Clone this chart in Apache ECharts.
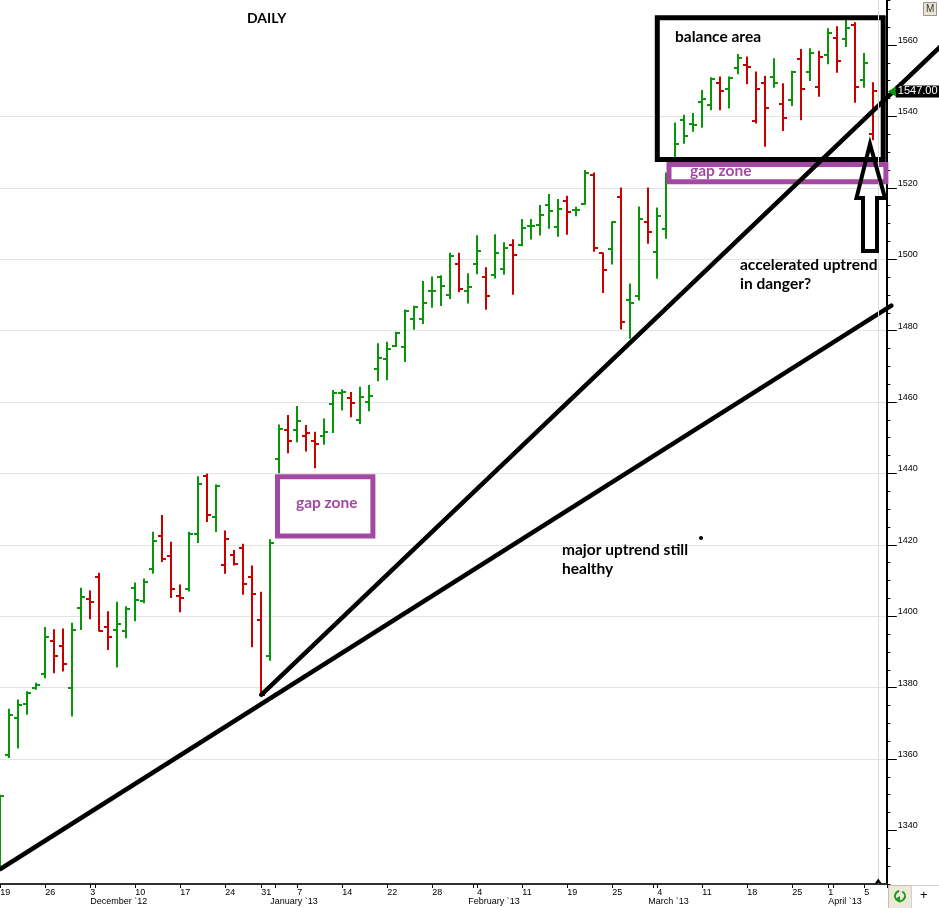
<!DOCTYPE html>
<html>
<head>
<meta charset="utf-8">
<title>DAILY</title>
<script src="https://cdn.jsdelivr.net/npm/echarts@6/dist/echarts.min.js"></script>
<style>
    html, body {margin: 0; padding: 0; background: #fff;}
    #chart {width: 939px; height: 908px;}
</style>
</head>
<body>
<div id="chart"></div>
<script>
// daily OHLC bars (one value per trading day)
var opens = [1331.0, 1361.1, 1371.6, 1375.5, 1379.9, 1383.9, 1393.0, 1391.6, 1379.9, 1402.2,
    1404.7, 1411.0, 1396.9, 1396.1, 1395.8, 1407.8, 1404.2, 1413.3, 1422.5, 1416.9,
    1405.8, 1407.5, 1423.0, 1439.4, 1427.9, 1414.4, 1417.2, 1419.2, 1411.0, 1398.9,
    1388.8, 1443.9, 1452.3, 1452.2, 1450.6, 1449.2, 1450.6, 1459.4, 1462.5, 1461.0,
    1455.1, 1460.0, 1469.2, 1472.0, 1475.7, 1475.5, 1483.3, 1483.3, 1491.2, 1494.9,
    1490.0, 1498.7, 1491.0, 1498.7, 1494.9, 1495.7, 1497.3, 1504.1, 1504.1, 1509.3,
    1509.7, 1515.3, 1509.0, 1516.2, 1513.7, 1515.6, 1523.6, 1501.6, 1502.8, 1517.5,
    1488.5, 1489.7, 1510.5, 1502.1, 1508.4, 1528.2, 1539.0, 1537.8, 1544.0, 1543.2,
    1549.3, 1547.7, 1553.5, 1554.4, 1538.7, 1549.4, 1550.9, 1543.4, 1544.6, 1556.0,
    1552.5, 1548.3, 1557.2, 1561.9, 1561.7, 1565.6, 1550.2, 1535.2];
var highs = [1349.7, 1373.8, 1376.4, 1378.7, 1381.1, 1396.7, 1396.1, 1396.3, 1397.9, 1407.7,
    1406.9, 1411.9, 1401.1, 1403.8, 1402.5, 1409.2, 1410.3, 1423.4, 1428.1, 1420.6,
    1408.6, 1423.4, 1438.9, 1439.7, 1436.6, 1423.7, 1418.3, 1420.0, 1413.9, 1406.6,
    1421.3, 1453.4, 1456.1, 1458.6, 1453.3, 1451.4, 1455.1, 1463.1, 1463.3, 1462.5,
    1464.0, 1464.5, 1476.2, 1476.6, 1479.4, 1485.6, 1486.7, 1493.6, 1494.9, 1495.2,
    1501.5, 1501.5, 1495.8, 1506.4, 1497.5, 1506.7, 1504.5, 1505.3, 1511.0, 1511.0,
    1514.9, 1518.0, 1516.6, 1517.5, 1514.4, 1524.7, 1524.0, 1501.6, 1510.3, 1519.8,
    1492.9, 1514.5, 1519.8, 1514.2, 1524.0, 1538.0, 1540.2, 1540.7, 1547.1, 1550.7,
    1550.9, 1550.9, 1557.2, 1556.5, 1552.3, 1551.1, 1556.0, 1549.0, 1552.5, 1558.6,
    1558.8, 1558.1, 1564.4, 1565.0, 1566.8, 1566.1, 1557.5, 1549.3];
var lows = [1329.2, 1360.6, 1363.2, 1372.7, 1379.7, 1382.9, 1384.3, 1384.8, 1372.2, 1396.4,
    1399.4, 1396.0, 1390.8, 1385.9, 1394.1, 1398.9, 1403.9, 1412.2, 1415.5, 1405.4,
    1401.4, 1407.2, 1420.8, 1426.7, 1423.9, 1412.2, 1414.5, 1406.3, 1391.6, 1378.0,
    1387.8, 1440.3, 1445.9, 1449.0, 1446.4, 1441.7, 1448.3, 1451.6, 1457.9, 1456.0,
    1454.1, 1457.7, 1466.1, 1466.4, 1475.7, 1471.5, 1480.5, 1482.1, 1486.7, 1487.2,
    1489.1, 1491.0, 1487.9, 1496.1, 1486.1, 1494.9, 1495.9, 1490.3, 1503.9, 1505.8,
    1506.9, 1508.8, 1506.6, 1507.1, 1512.3, 1515.5, 1502.4, 1490.8, 1498.8, 1480.6,
    1478.0, 1488.7, 1504.6, 1494.8, 1506.0, 1528.2, 1532.6, 1536.0, 1537.1, 1542.0,
    1542.0, 1542.5, 1552.1, 1549.3, 1538.3, 1531.8, 1548.3, 1536.2, 1543.2, 1539.2,
    1550.2, 1545.8, 1554.9, 1552.5, 1559.7, 1544.1, 1548.3, 1533.6];
var closes = [1349.7, 1372.2, 1375.0, 1378.4, 1380.7, 1394.1, 1389.0, 1386.7, 1396.1, 1405.4,
    1403.9, 1396.0, 1394.1, 1397.9, 1402.1, 1404.5, 1409.7, 1421.1, 1415.9, 1407.7,
    1405.0, 1423.0, 1437.1, 1428.3, 1436.6, 1421.6, 1414.7, 1408.9, 1406.1, 1378.0,
    1420.4, 1452.5, 1449.0, 1454.6, 1451.4, 1448.3, 1451.6, 1462.5, 1462.8, 1459.7,
    1461.4, 1461.6, 1472.4, 1474.8, 1479.2, 1485.5, 1486.5, 1487.7, 1491.2, 1492.6,
    1501.0, 1491.6, 1492.2, 1502.4, 1489.6, 1501.7, 1503.0, 1501.3, 1508.8, 1509.3,
    1512.5, 1513.5, 1514.2, 1513.2, 1513.9, 1524.2, 1503.0, 1497.0, 1510.3, 1482.5,
    1487.8, 1511.2, 1507.7, 1512.1, 1523.0, 1532.4, 1534.6, 1537.7, 1544.8, 1550.5,
    1547.1, 1550.7, 1556.4, 1553.7, 1547.7, 1542.4, 1549.3, 1539.6, 1552.3, 1547.6,
    1557.7, 1556.7, 1563.3, 1555.6, 1564.7, 1548.3, 1554.9, 1547.0];

// date ticks on the time axis (bar index -> text)
var dayTickIdx = [0, 5, 10, 15, 20, 25, 29, 33, 38, 43, 48, 53, 58, 63, 68, 73, 78, 83, 88, 92, 96];
var dayTickText = ['19', '26', '3', '10', '17', '24', '31', '7', '14', '22', '28',
    '4', '11', '19', '25', '4', '11', '18', '25', '1', '5'];
var monthIdx = [10, 30, 52, 72, 92];
var monthText = ['December `12', 'January `13', 'February `13', 'March `13', 'April `13'];
var monthTickIdx = [11, 31, 53, 73, 93];

// price scale
var priceTicks = [1340, 1360, 1380, 1400, 1420, 1440, 1460, 1480, 1500, 1520, 1540, 1560];
var yMin = 1325;
var yMax = 1572.6;

// hand drawn annotations, in (bar index, price)
var trendLines = [
    [0, 1329.2, 99, 1487.0],      // major uptrend
    [29, 1378.0, 104.5, 1559.7]   // accelerated uptrend
];
var balanceBox = [[73.0, 1567.6, 98.1, 1527.9]];
var gapBoxes = [[30.8, 1439.1, 41.4, 1422.5], [74.3, 1526.5, 98.4, 1521.7]];
var lastBarMark = 97.55;

var upColor = '#0a960a';
var downColor = '#c80000';
var purple = '#a349a4';

var slots = [];
for (var s = 0; s <= closes.length; s++) {
    slots.push(String(s));
}

var bars = opens.map(function (o, i) {
    var up = i === 0 || closes[i] >= closes[i - 1];
    return [i, o, highs[i], lows[i], closes[i], up ? 1 : 0];
});

/**
 * OHLC bar: vertical high-low, open tick left, close tick right
 */
function renderBar(params, api) {
    var idx = api.value(0);
    var x = Math.round(api.coord([idx, api.value(2)])[0]);
    var yH = api.coord([idx, api.value(2)])[1];
    var yL = api.coord([idx, api.value(3)])[1];
    var yO = Math.round(api.coord([idx, api.value(1)])[1]);
    var yC = Math.round(api.coord([idx, api.value(4)])[1]);
    var color = api.value(5) ? upColor : downColor;
    var st = {stroke: color, lineWidth: 2};
    return {
        type: 'group',
        children: [
            {type: 'line', shape: {x1: x, y1: yH - 1, x2: x, y2: yL + 1}, style: st},
            {type: 'line', shape: {x1: x - 4, y1: yO, x2: x, y2: yO}, style: st},
            {type: 'line', shape: {x1: x, y1: yC, x2: x + 4, y2: yC}, style: st}
        ]
    };
}

function boxRenderer(color) {
    return function (params, api) {
        var p1 = api.coord([api.value(0), api.value(1)]);
        var p2 = api.coord([api.value(2), api.value(3)]);
        return {
            type: 'rect',
            shape: {x: p1[0], y: p1[1], width: p2[0] - p1[0], height: p2[1] - p1[1]},
            style: {fill: 'none', stroke: color, lineWidth: 5}
        };
    };
}

function renderTrend(params, api) {
    var p1 = api.coord([api.value(0), api.value(1)]);
    var p2 = api.coord([api.value(2), api.value(3)]);
    return {
        type: 'line',
        shape: {x1: p1[0], y1: p1[1], x2: p2[0], y2: p2[1]},
        style: {stroke: '#000', lineWidth: 4.5, lineCap: 'round'}
    };
}

var annoFont = 'bold 15.5px Lato';

var myChart = echarts.init(document.getElementById('chart'));
var option = {
    animation: false,
    backgroundColor: '#fff',
    textStyle: {fontFamily: 'Liberation Sans'},
    grid: {left: -4.2, right: 52.2, top: 0, bottom: 24, containLabel: false, outerBoundsMode: 'none'},
    xAxis: [
        {
            type: 'category',
            data: slots,
            position: 'bottom',
            boundaryGap: true,
            axisLine: {show: true, onZero: false, lineStyle: {color: '#303030', width: 2}},
            axisTick: {
                show: true,
                alignWithLabel: true,
                length: 4,
                interval: function (i) { return dayTickIdx.indexOf(i) >= 0; },
                lineStyle: {color: '#000', width: 1}
            },
            axisLabel: {
                show: true,
                interval: function (i) { return dayTickIdx.indexOf(i) >= 0; },
                formatter: function (v, i) { return dayTickText[dayTickIdx.indexOf(i)] || ''; },
                align: 'left',
                margin: 4,
                fontSize: 9,
                color: '#000'
            },
            splitLine: {show: false}
        },
        {
            type: 'category',
            data: slots,
            position: 'bottom',
            boundaryGap: true,
            axisLine: {show: false, onZero: false},
            axisTick: {
                show: true,
                alignWithLabel: false,
                length: 4,
                interval: function (i) { return monthTickIdx.indexOf(i) >= 0; },
                lineStyle: {color: '#000', width: 1}
            },
            axisLabel: {
                show: true,
                interval: function (i) { return monthIdx.indexOf(i) >= 0; },
                formatter: function (v, i) { return monthText[monthIdx.indexOf(i)] || ''; },
                align: 'left',
                margin: 13,
                fontSize: 9,
                color: '#000'
            },
            splitLine: {show: false}
        },
        {type: 'value', min: -0.5, max: slots.length - 0.5, show: false, position: 'top',
            axisLine: {onZero: false}}
    ],
    yAxis: [
        {
            type: 'value',
            position: 'right',
            min: yMin,
            max: yMax,
            axisLine: {show: true, onZero: false, lineStyle: {color: '#000', width: 2}},
            axisTick: {show: true, customValues: priceTicks, length: 10, lineStyle: {color: '#000', width: 1}},
            axisLabel: {
                show: true,
                customValues: priceTicks,
                formatter: function (v) { return String(v); },
                margin: 11,
                fontSize: 9,
                color: '#000',
                verticalAlign: 'bottom',
                lineHeight: 9
            },
            splitLine: {show: true, showMinLine: false, showMaxLine: false, lineStyle: {color: '#e4e4e4', width: 1}}
        },
        {
            type: 'value',
            position: 'right',
            min: yMin,
            max: yMax,
            interval: 5,
            axisLine: {show: false, onZero: false},
            axisTick: {show: true, length: 3.5, lineStyle: {color: '#000', width: 1}},
            axisLabel: {show: false},
            splitLine: {show: false}
        }
    ],
    series: [
        {
            name: 'OHLC',
            type: 'custom',
            xAxisIndex: 0,
            yAxisIndex: 0,
            renderItem: renderBar,
            encode: {x: 0, y: [1, 2, 3, 4]},
            data: bars,
            z: 2
        },
        {
            name: 'balance area',
            type: 'custom',
            xAxisIndex: 2,
            yAxisIndex: 0,
            clip: false,
            renderItem: boxRenderer('#000'),
            data: balanceBox,
            z: 3
        },
        {
            name: 'gap zone',
            type: 'custom',
            xAxisIndex: 2,
            yAxisIndex: 0,
            clip: false,
            renderItem: boxRenderer(purple),
            data: gapBoxes,
            z: 3
        },
        {
            name: 'trend lines',
            type: 'custom',
            xAxisIndex: 2,
            yAxisIndex: 0,
            clip: false,
            renderItem: renderTrend,
            data: trendLines,
            z: 4
        },
        {
            name: 'last',
            type: 'line',
            xAxisIndex: 2,
            yAxisIndex: 0,
            clip: false,
            symbol: 'none',
            lineStyle: {width: 0},
            data: [[closes.length - 1, closes[closes.length - 1]]],
            z: 5,
            markLine: {
                silent: true,
                animation: false,
                symbol: ['none', 'none'],
                data: [
                    {
                        xAxis: lastBarMark,
                        lineStyle: {color: '#dcdcdc', width: 1, type: 'solid'},
                        label: {show: false}
                    },
                    {
                        yAxis: closes[closes.length - 1],
                        lineStyle: {color: 'rgba(0,0,0,0)', width: 0},
                        label: {
                            show: true,
                            position: 'end',
                            distance: 9,
                            formatter: function (p) { return Number(p.value).toFixed(2); },
                            backgroundColor: '#000',
                            color: '#fff',
                            fontSize: 11,
                            fontFamily: 'Liberation Sans',
                            padding: [1, 3, 0, 2]
                        }
                    }
                ]
            },
            markPoint: {
                silent: true,
                animation: false,
                label: {show: false},
                data: [
                    {
                        coord: [slots.length - 0.5, closes[closes.length - 1]],
                        symbol: 'triangle',
                        symbolSize: [10, 8],
                        symbolRotate: 90,
                        symbolOffset: [5, 0],
                        itemStyle: {color: upColor}
                    },
                    {
                        coord: [lastBarMark, yMin],
                        symbol: 'triangle',
                        symbolSize: [7, 5],
                        symbolOffset: [0, -3],
                        itemStyle: {color: '#000'}
                    }
                ]
            }
        }
    ],
    graphic: [
        {type: 'text', left: 247, top: 11, z: 10, style: {text: 'DAILY', font: 'bold 14px Lato', fill: '#000'}},
        {type: 'text', left: 675, top: 29, z: 10, style: {text: 'balance area', font: annoFont, fill: '#000'}},
        {type: 'text', left: 296, top: 495, z: 10, style: {text: 'gap zone', font: annoFont, fill: purple}},
        {type: 'text', left: 690, top: 163, z: 10, style: {text: 'gap zone', font: annoFont, fill: purple}},
        {
            type: 'text', left: 740, top: 255, z: 10,
            style: {text: 'accelerated uptrend\nin danger?', font: annoFont, fill: '#000', lineHeight: 19}
        },
        {
            type: 'text', left: 562, top: 540, z: 10,
            style: {text: 'major uptrend still\nhealthy', font: annoFont, fill: '#000', lineHeight: 19}
        },
        {type: 'circle', z: 10, shape: {cx: 701, cy: 538, r: 2}, style: {fill: '#000'}},
        {
            type: 'polygon', z: 10,
            shape: {points: [[870, 144], [885, 198], [877, 198], [877, 251], [863, 251], [863, 198], [856.5, 198]]},
            style: {fill: 'none', stroke: '#000', lineWidth: 4, lineJoin: 'miter'}
        },
        // top right button
        {type: 'rect', z: 10, shape: {x: 923.5, y: 2.5, width: 13, height: 13}, style: {fill: '#e9e6d8', stroke: '#9a9684'}},
        {type: 'text', z: 11, left: 926, top: 4, style: {text: 'M', font: '10px Liberation Sans', fill: '#333'}},
        // bottom right buttons
        {type: 'rect', z: 10, shape: {x: 888.5, y: 885.5, width: 23, height: 23}, style: {fill: '#ece9d8', stroke: '#c5c1ad'}},
        {type: 'arc', z: 11, shape: {cx: 900, cy: 896, r: 5, startAngle: -Math.PI * 0.35, endAngle: Math.PI * 1.45}, style: {fill: 'none', stroke: '#1e9a1e', lineWidth: 2}},
        {type: 'polygon', z: 11, shape: {points: [[895, 899], [900, 903], [900, 896]]}, style: {fill: '#1e9a1e'}},
        {type: 'rect', z: 10, shape: {x: 911.5, y: 885.5, width: 28, height: 23}, style: {fill: '#fff', stroke: '#d0d0d0'}},
        {type: 'text', z: 11, left: 920, top: 889, style: {text: '+', font: '13px Liberation Sans', fill: '#000'}}
    ]
};
myChart.setOption(option);
</script>
</body>
</html>
